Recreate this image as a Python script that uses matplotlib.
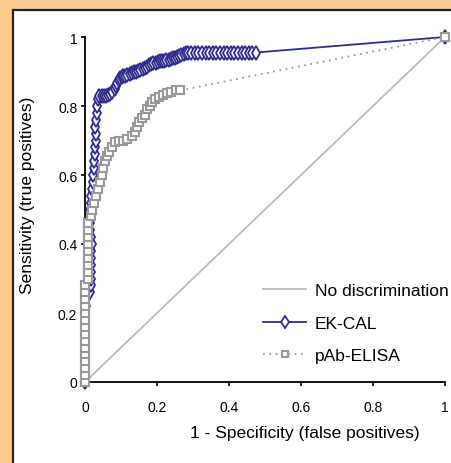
import matplotlib
matplotlib.use("Agg")
import matplotlib.pyplot as plt
from matplotlib.patches import Rectangle

plt.rcParams['font.family'] = ['Liberation Sans', 'DejaVu Sans']

# EK-CAL ROC points (1 - specificity, sensitivity)
ek_fpr = [0, 0, 0, 0, 0, 0, 0, 0, 0, 0, 0, 0.002, 0.003,
          0.014, 0.016, 0.017, 0.017, 0.018, 0.018, 0.018, 0.019, 0.017, 0.015, 0.014, 0.014, 0.014,
          0.016, 0.018, 0.020, 0.022, 0.022, 0.024, 0.026, 0.028, 0.028, 0.030, 0.030, 0.028, 0.030,
          0.032, 0.034, 0.036, 0.040, 0.046, 0.052, 0.058, 0.064, 0.070, 0.076, 0.082, 0.086, 0.090,
          0.094, 0.098, 0.102, 0.106, 0.112, 0.118, 0.124, 0.130, 0.136, 0.142, 0.148, 0.154, 0.160,
          0.166, 0.172, 0.178, 0.184, 0.190, 0.196, 0.202, 0.208, 0.214, 0.220, 0.226, 0.232, 0.238,
          0.244, 0.250, 0.256, 0.262, 0.268, 0.274, 0.280, 0.286, 0.295, 0.305, 0.315, 0.325, 0.335,
          0.345, 0.355, 0.365, 0.375, 0.385, 0.395, 0.405, 0.415, 0.425, 0.435, 0.445, 0.455, 0.465,
          0.475, 1.0]
ek_tpr = [0, 0.02, 0.04, 0.06, 0.08, 0.10, 0.12, 0.14, 0.16, 0.18, 0.20, 0.22, 0.24,
          0.26, 0.28, 0.30, 0.32, 0.34, 0.36, 0.38, 0.40, 0.42, 0.44, 0.46, 0.48, 0.50,
          0.52, 0.54, 0.56, 0.58, 0.60, 0.62, 0.64, 0.66, 0.68, 0.70, 0.72, 0.74, 0.76,
          0.78, 0.80, 0.82, 0.83, 0.83, 0.83, 0.83, 0.832, 0.836, 0.842, 0.850, 0.858, 0.866,
          0.874, 0.880, 0.884, 0.886, 0.888, 0.890, 0.893, 0.896, 0.898, 0.900, 0.902, 0.903, 0.906,
          0.910, 0.914, 0.918, 0.921, 0.924, 0.926, 0.928, 0.929, 0.930, 0.931, 0.932, 0.934, 0.936,
          0.938, 0.940, 0.942, 0.945, 0.948, 0.951, 0.954, 0.955, 0.955, 0.955, 0.955, 0.955, 0.955,
          0.955, 0.955, 0.955, 0.955, 0.955, 0.955, 0.955, 0.955, 0.955, 0.955, 0.955, 0.955, 0.955,
          0.955, 1.0]

# pAb-ELISA ROC points
pab_fpr = [0, 0, 0, 0, 0, 0, 0, 0, 0, 0, 0, 0, 0, 0, 0,
           0.008, 0.008, 0.008, 0.008, 0.008, 0.008, 0.008, 0.008, 0.008,
           0.016, 0.020, 0.025, 0.030, 0.036, 0.042, 0.046, 0.050, 0.056, 0.062, 0.068, 0.075,
           0.083, 0.094, 0.106, 0.118, 0.130, 0.138, 0.144, 0.150, 0.158, 0.166, 0.172, 0.180,
           0.186, 0.195, 0.206, 0.217, 0.228, 0.240, 0.252, 0.264, 1.0]
pab_tpr = [0, 0.02, 0.04, 0.06, 0.08, 0.10, 0.12, 0.14, 0.16, 0.18, 0.20, 0.22, 0.24, 0.26, 0.28,
           0.30, 0.32, 0.34, 0.36, 0.38, 0.40, 0.42, 0.44, 0.46,
           0.48, 0.50, 0.52, 0.54, 0.56, 0.58, 0.60, 0.62, 0.64, 0.655, 0.668, 0.68,
           0.695, 0.70, 0.70, 0.705, 0.712, 0.725, 0.74, 0.755, 0.765, 0.775, 0.79, 0.80,
           0.812, 0.82, 0.825, 0.832, 0.838, 0.842, 0.845, 0.845, 1.0]

diag = [0, 1]
ticks = [0, 0.2, 0.4, 0.6, 0.8, 1]
tick_labels = ['0', '0.2', '0.4', '0.6', '0.8', '1']

fig = plt.figure(figsize=(4.51, 4.64), dpi=100)
fig.patch.set_facecolor('#FBCB8E')

# white inner panel with dark border (runs off the right and bottom edges)
panel = Rectangle((13 / 451, -0.1), 1.2, 1 - 11 / 464 + 0.1, transform=fig.transFigure,
                  facecolor='white', edgecolor='#222222', linewidth=1.6, zorder=-10)
fig.patches.append(panel)

ax = fig.add_axes([85 / 451, 1 - 383 / 464, 360 / 451, 345 / 464])
ax.set_facecolor('none')

navy = '#302C8E'
ax.plot(diag, diag, color='#BBBBBB', linewidth=1.3, label='No discrimination', clip_on=False)
ax.plot(ek_fpr, ek_tpr, color=navy, linewidth=1.3, marker='d', markersize=7.5,
        markerfacecolor='white', markeredgecolor=navy, markeredgewidth=1.3,
        label='EK-CAL', clip_on=False, zorder=3)
ax.plot(pab_fpr, pab_tpr, color='#999999', linewidth=1.3, linestyle=(0, (1, 2.5)), marker='s',
        markersize=5.5, markerfacecolor='white', markeredgecolor='#999999', markeredgewidth=1.5,
        label='pAb-ELISA', clip_on=False, zorder=4)

ax.set_xlim(0, 1)
ax.set_ylim(0, 1)
ax.set_xticks(ticks)
ax.set_xticklabels(tick_labels)
ax.set_yticks(ticks)
ax.set_yticklabels(tick_labels)
for s in ['top', 'right']:
    ax.spines[s].set_visible(False)
for s in ['left', 'bottom']:
    ax.spines[s].set_linewidth(1.3)
ax.tick_params(axis='x', length=3, width=1.2, pad=10, labelsize=10)
ax.tick_params(axis='y', length=3, width=1.2, pad=2.5, labelsize=10)

ax.set_xlabel('1 - Specificity (false positives)', fontsize=12.5)
ax.xaxis.set_label_coords(0.61, -0.125)
ax.set_ylabel('Sensitivity (true positives)', fontsize=12.5)
ax.yaxis.set_label_coords(-0.139, 0.545)

ax.legend(loc='upper left', bbox_to_anchor=(263 / 451, 1 - 284 / 464),
          bbox_transform=fig.transFigure, frameon=False, fontsize=12.5,
          handlelength=2.5, handletextpad=0.5, labelspacing=1.0, borderpad=0,
          borderaxespad=0, numpoints=1, markerscale=0.85)

fig.savefig('out.png', dpi=100, facecolor=fig.get_facecolor())
